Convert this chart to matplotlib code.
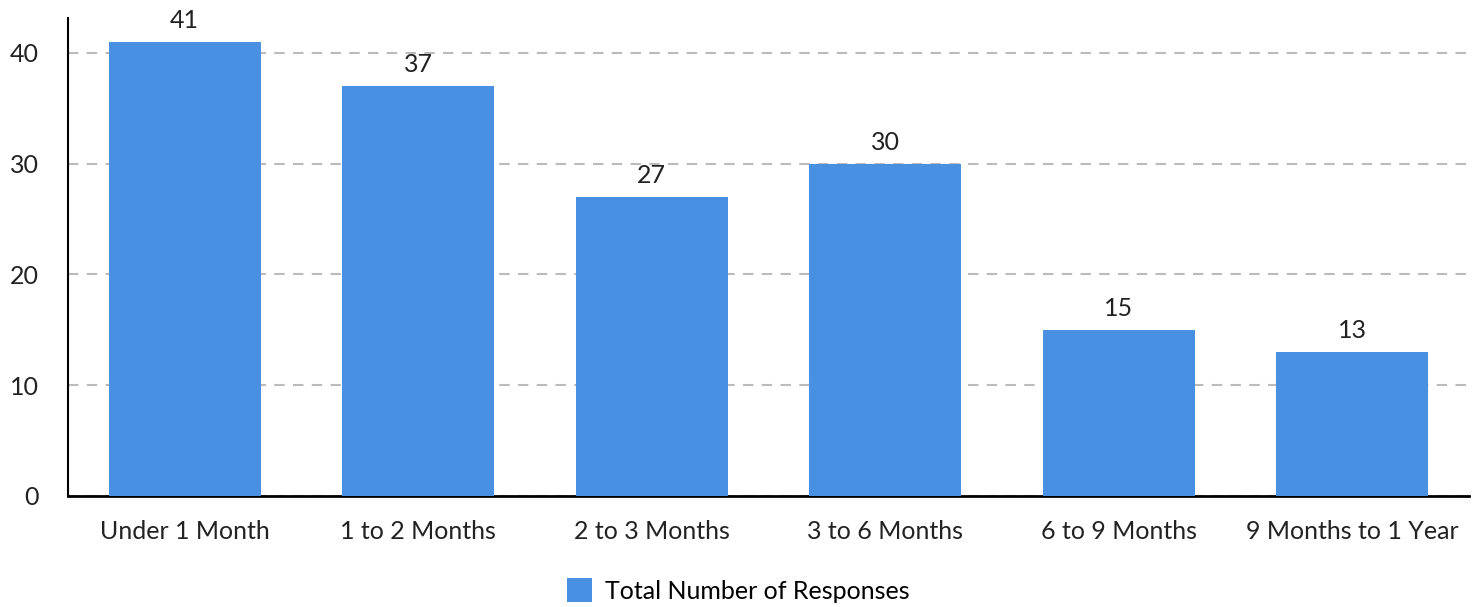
import matplotlib
matplotlib.use("Agg")
import matplotlib.pyplot as plt
from matplotlib.patches import Patch

categories = ["Under 1 Month", "1 to 2 Months", "2 to 3 Months",
              "3 to 6 Months", "6 to 9 Months", "9 Months to 1 Year"]
responses = [41, 37, 27, 30, 15, 13]
series_name = "Total Number of Responses"

plt.rcParams["font.family"] = ["Lato", "DejaVu Sans"]
color = "#4A90E2"

fig = plt.figure(figsize=(14.77, 6.07), dpi=100)
ax = fig.add_axes([0.046, 0.1829, 0.9486, 0.7874])

x = range(len(categories))
bars = ax.bar(x, responses, width=0.65, color=color, zorder=3)
for b, v in zip(bars, responses):
    ax.annotate(str(v), (b.get_x() + b.get_width() / 2, v),
                xytext=(0, 7), textcoords="offset points",
                ha="center", va="bottom", fontsize=18, color="#222222")

ax.set_xlim(-0.5, len(categories) - 0.5)
ax.set_ylim(0, 43.15)
ax.set_yticks([0, 10, 20, 30, 40])
ax.set_xticks(list(x))
ax.set_xticklabels(categories)
ax.tick_params(axis="both", length=0, labelsize=18, colors="#222222")
ax.tick_params(axis="x", pad=17)
ax.tick_params(axis="y", pad=21)

ax.grid(True, axis="y", color="#bbbbbb", ls=(0, (5, 4)), lw=1.5, zorder=0)
ax.spines["top"].set_visible(False)
ax.spines["right"].set_visible(False)
ax.spines["left"].set_linewidth(1.5)
ax.spines["bottom"].set_linewidth(2)

fig.legend(handles=[Patch(facecolor=color, label=series_name)],
           loc="center", bbox_to_anchor=(0.5, 0.027), frameon=False,
           fontsize=18, handlelength=1.0, handleheight=1.1, handletextpad=0.5)

fig.savefig("out.png", dpi=100)
